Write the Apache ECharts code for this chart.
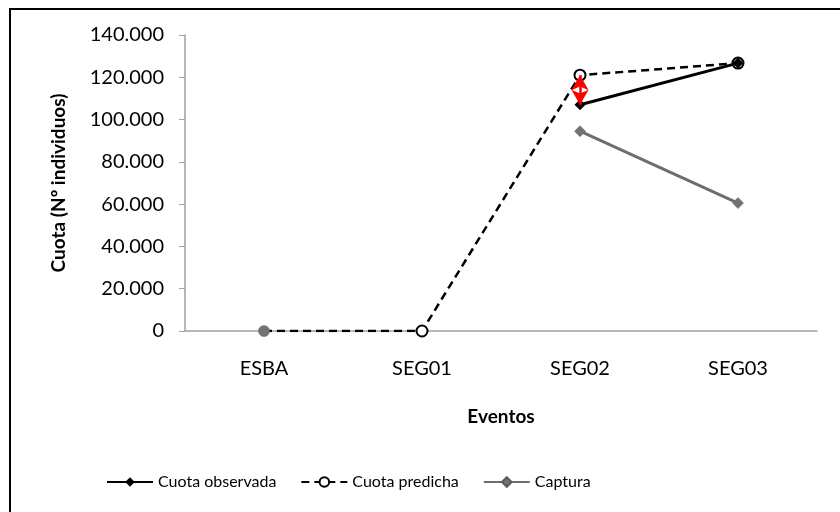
<!DOCTYPE html>
<html>
<head>
<meta charset="utf-8">
<script src="https://cdn.jsdelivr.net/npm/echarts@6/dist/echarts.min.js"></script>
<style>
  html, body { margin: 0; padding: 0; background: #fff; }
  #frame { position: absolute; left: 9px; top: 8px; width: 840px; height: 512px;
           border-left: 2px solid #000; border-top: 2px solid #000; }
  #chart { position: absolute; left: 0; top: 0; width: 840px; height: 512px; }
</style>
</head>
<body>
<div id="frame"></div>
<div id="chart"></div>
<script>
  // categorías y valores
  const eventos = ['ESBA', 'SEG01', 'SEG02', 'SEG03'];
  const cuotaObservada = [null, null, 107000, 126700];
  const cuotaPredicha = [0, 0, 121000, 126700];
  const captura = [0, null, 94500, 60500];
  const yTicks = [0, 20000, 40000, 60000, 80000, 100000, 120000, 140000];

  const font = 'Lato, "Open Sans", sans-serif';
  const fmt = v => v === 0 ? '0' : String(v).replace(/\B(?=(\d{3})+(?!\d))/g, '.');

  let chart = echarts.init(document.getElementById('chart'));
  chart.setOption({
    animation: false,
    textStyle: { fontFamily: font },
    grid: { left: 185, right: 23, top: 35, bottom: 181 },
    legend: {
      left: 101,
      top: 469,
      itemWidth: 46,
      itemHeight: 12,
      itemGap: 24,
      textStyle: { fontSize: 16, color: '#000', fontFamily: font },
      data: ['Cuota observada', 'Cuota predicha', 'Captura']
    },
    xAxis: {
      type: 'category',
      data: eventos,
      boundaryGap: true,
      name: 'Eventos',
      nameLocation: 'middle',
      nameGap: 76,
      nameTextStyle: { fontSize: 19, fontWeight: 'bold', color: '#000' },
      axisLine: { lineStyle: { color: '#a0a0a0', width: 1.5 } },
      axisTick: { show: false },
      axisLabel: { fontSize: 20, color: '#000', margin: 28 }
    },
    yAxis: {
      type: 'value',
      min: yTicks[0],
      max: yTicks[yTicks.length - 1],
      interval: 20000,
      name: 'Cuota (Nº individuos)',
      nameLocation: 'middle',
      nameGap: 117,
      nameTextStyle: { fontSize: 19, fontWeight: 'bold', color: '#000' },
      axisLine: { show: true, lineStyle: { color: '#a0a0a0', width: 1.5 } },
      axisTick: { show: true, inside: false, length: 6, lineStyle: { color: '#a0a0a0' } },
      splitLine: { show: false },
      axisLabel: { fontSize: 20, color: '#000', margin: 21, formatter: fmt }
    },
    series: [
      {
        name: 'Cuota predicha',
        type: 'line',
        data: cuotaPredicha.map((v, i) => i === 0 ? { value: v, symbol: 'none' } : v),
        symbol: 'emptyCircle',
        symbolSize: 11,
        z: 2,
        lineStyle: { color: '#000', width: 2.5, type: [8, 5] },
        itemStyle: { color: '#000', borderColor: '#000', borderWidth: 1.5 }
      },
      {
        name: 'Cuota observada',
        type: 'line',
        data: cuotaObservada,
        symbol: 'diamond',
        symbolSize: 11,
        z: 3,
        lineStyle: { color: '#000', width: 3 },
        itemStyle: { color: '#000' },
        markLine: {
          silent: true,
          symbol: ['arrow', 'arrow'],
          symbolSize: [13, 15],
          label: { show: false },
          lineStyle: { color: '#ff0000', width: 2.5, type: 'solid' },
          data: [[
            { coord: [eventos[2], cuotaObservada[2]] },
            { coord: [eventos[2], cuotaPredicha[2]] }
          ]]
        }
      },
      {
        name: 'Captura',
        type: 'line',
        data: captura.map((v, i) => i === 0 ? { value: v, symbol: 'circle', symbolSize: 11 } : v),
        symbol: 'diamond',
        symbolSize: 11,
        z: 4,
        lineStyle: { color: '#6e6e6e', width: 3 },
        itemStyle: { color: '#737373', borderColor: '#5a5a5a', borderWidth: 0.5 }
      }
    ]
  });
</script>
</body>
</html>
